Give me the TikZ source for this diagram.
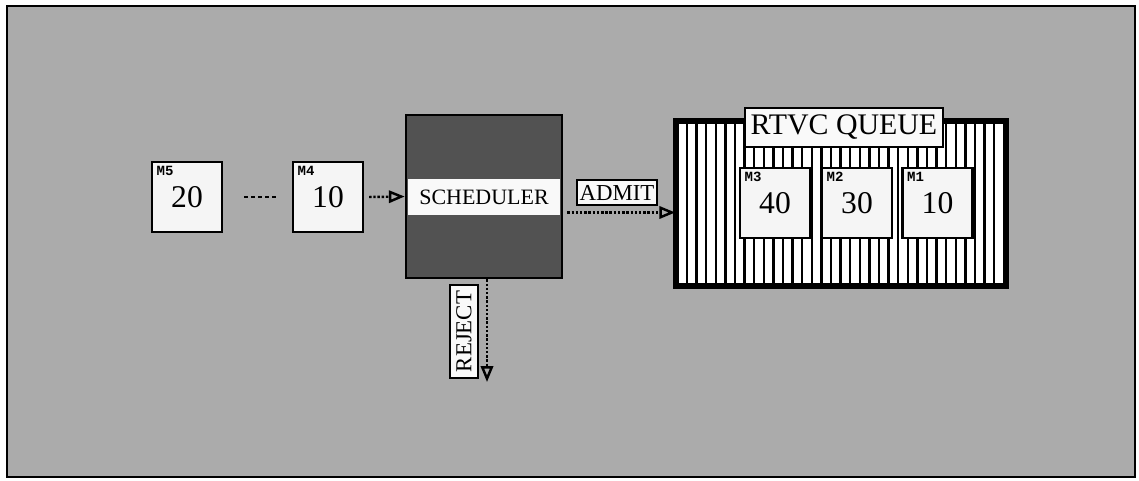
\documentclass[tikz,border=0pt]{standalone}
\usepackage{fontspec}
\setmainfont{Liberation Serif}
\setmonofont{Liberation Mono}
\usepackage{tikz}
\usetikzlibrary{arrows.meta}

\tikzset{
  msgbox/.style={draw, fill=gray!8, line width=1.2pt, minimum width=1.4cm, minimum height=1.4cm,
    inner sep=0pt, font=\fontsize{18}{18}\selectfont},
  msgtag/.style={anchor=north west, inner sep=3pt, font=\ttfamily\bfseries\fontsize{8}{8}\selectfont},
  labelbox/.style={draw, fill=gray!5, line width=1.2pt, inner sep=1pt},
  flow/.style={line width=1.4pt, densely dotted, -{Triangle[open, length=9pt, width=7pt]}}
}

\begin{document}
\begin{tikzpicture}[x=0.02cm, y=-0.02cm]
  \useasboundingbox (0,0) rectangle (1139,480);
  \fill[white] (0,0) rectangle (1139,480);
  \draw[fill=black!33, line width=1.2pt] (7,6) rectangle (1135,477);

  \node[msgbox] (m5) at (187,197) {20};
  \node[msgtag] (m5tag) at (m5.north west) {M5};
  \node[msgbox] (m4) at (328,197) {10};
  \node[msgtag] (m4tag) at (m4.north west) {M4};
  \draw[line width=1.4pt, dash pattern=on 2pt off 2pt] ([xshift=0.42cm]m5.east) -- ([xshift=-0.26cm]m4.west);

  \node[draw, fill=black!68, line width=1.5pt, minimum width=3.12cm, minimum height=3.26cm] (sched) at (484,196.5) {};
  \node[fill=gray!5, minimum width=3.04cm, minimum height=0.72cm, inner sep=0pt,
    font=\fontsize{12.5}{12.5}\selectfont] (schedlbl) at (484,197) {SCHEDULER};
  \draw[flow] ([xshift=0.1cm]m4.east) -- (sched.west);

  \node[draw, fill=white, line width=2pt, minimum width=6.56cm, minimum height=3.26cm] (queue) at (841,203.5) {};
  \foreach \x in {687,696.6,...,1000}
    \draw[line width=1.3pt] (\x,124) -- (\x,283);
  \draw[line width=2.2pt] (queue.south west) rectangle (queue.north east);
  \node[labelbox, minimum width=3.96cm, minimum height=0.78cm, font=\fontsize{17}{17}\selectfont] (qlbl) at (844,127.5) {RTVC QUEUE};
  \node[msgbox] (m3) at (775,203) {40};
  \node[msgtag] (m3tag) at (m3.north west) {M3};
  \node[msgbox] (m2) at (857,203) {30};
  \node[msgtag] (m2tag) at (m2.north west) {M2};
  \node[msgbox] (m1) at (937.5,203) {10};
  \node[msgtag] (m1tag) at (m1.north west) {M1};

  \node[labelbox, minimum width=1.6cm, minimum height=0.5cm, font=\fontsize{13}{13}\selectfont] (admit) at (617,192.5) {ADMIT};
  \coordinate (admitfrom) at ([yshift=-0.32cm]sched.east);
  \draw[flow] ([xshift=0.08cm]admitfrom) -- (admitfrom -| queue.west);

  \node[labelbox, rotate=90, minimum width=1.86cm, minimum height=0.56cm, font=\fontsize{13}{13}\selectfont] (reject) at (464,331.5) {REJECT};
  \coordinate (rejectend) at (487,382);
  \draw[flow] (sched.south -| rejectend) -- (rejectend);
\end{tikzpicture}
\end{document}
